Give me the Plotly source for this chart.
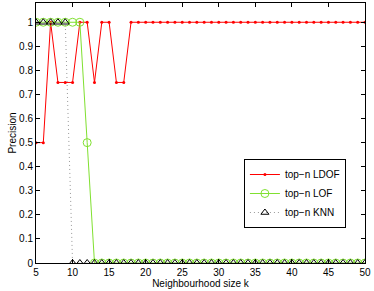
import plotly.graph_objects as go

k = list(range(5, 51))
ldof = [0.5, 0.5, 1, 0.75, 0.75, 0.75, 1, 1, 0.75, 1, 1, 0.75, 0.75] + [1] * 33
lof = [1, 1, 1, 1, 1, 1, 1, 0.5] + [0] * 38
knn = [1, 1, 1, 1, 1] + [0] * 41

font = "Liberation Sans, Arial, sans-serif"
fig = go.Figure()
fig.add_trace(go.Scatter(x=k, y=ldof, name="top\u2212n LDOF", mode="lines+markers",
                         line=dict(color="#ff0000", width=1),
                         marker=dict(symbol="circle", size=3, color="#ff0000")))
fig.add_trace(go.Scatter(x=k, y=lof, name="top\u2212n LOF", mode="lines+markers",
                         line=dict(color="#80e030", width=1),
                         marker=dict(symbol="circle-open", size=8, color="#80e030", line=dict(width=1))))
fig.add_trace(go.Scatter(x=k, y=knn, name="top\u2212n KNN", mode="lines+markers",
                         line=dict(color="#999999", width=1, dash="1px,3px"),
                         marker=dict(symbol="triangle-up-open", size=7, color="#000000", line=dict(width=1))))

axis_common = dict(showline=True, linecolor="black", linewidth=1, mirror="ticks",
                   ticks="inside", ticklen=4, tickcolor="black", showgrid=False, zeroline=False,
                   automargin=False,
                   tickfont=dict(family=font, size=10, color="black"))
fig.update_xaxes(range=[5, 50], tickmode="array", tickvals=list(range(5, 51, 5)),
                 title=dict(text="Neighbourhood size k", font=dict(family=font, size=10, color="black"), standoff=0),
                 **axis_common)
fig.update_yaxes(range=[0, 1.08], tickmode="array", tickvals=[i / 10 for i in range(11)],
                 ticktext=["0", "0.1", "0.2", "0.3", "0.4", "0.5", "0.6", "0.7", "0.8", "0.9", "1"],
                 title=dict(text="Precision", font=dict(family=font, size=10, color="black"), standoff=0),
                 **axis_common)
fig.update_layout(width=374, height=291, margin=dict(l=36, r=9, t=3, b=28),
                  plot_bgcolor="white", paper_bgcolor="white",
                  font=dict(family=font, size=10, color="black"),
                  legend=dict(x=0.942, y=0.40, xanchor="right", yanchor="top",
                              bordercolor="black", borderwidth=1, bgcolor="white",
                              font=dict(family=font, size=10), tracegroupgap=0,
                              itemwidth=30))
fig.write_html("out.html", config={"displayModeBar": False},
               post_script="document.body.style.margin='0';document.body.style.overflow='hidden';")
